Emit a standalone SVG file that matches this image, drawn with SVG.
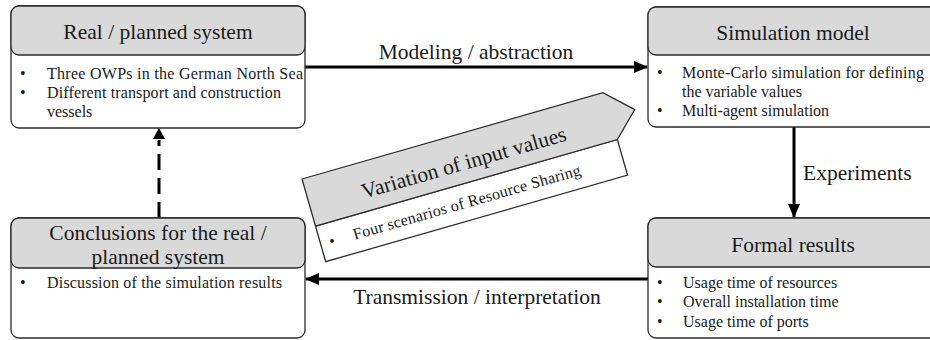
<svg xmlns="http://www.w3.org/2000/svg" width="930" height="340" viewBox="0 0 930 340">
  <style>
    .box { fill: #ffffff; stroke: #2b2b2b; stroke-width: 1.3; }
    .head { fill: #d9d9d9; stroke: #2b2b2b; stroke-width: 1.3; }
    .title { font-family: "Liberation Serif", "Times New Roman", serif; font-size: 21.5px; fill: #1a1a1a; text-anchor: middle; }
    .item { font-family: "Liberation Serif", "Times New Roman", serif; font-size: 16px; fill: #1a1a1a; }
    .label { font-family: "Liberation Serif", "Times New Roman", serif; font-size: 21.5px; fill: #1a1a1a; }
    .link { fill: none; stroke: #000000; stroke-width: 3; }
  </style>
  <defs>
    <marker id="arrow" markerUnits="userSpaceOnUse" markerWidth="14" markerHeight="12" refX="13" refY="6" orient="auto">
      <path d="M0,0 L14,6 L0,12 Z" fill="#000000"/>
    </marker>
  </defs>

  <!-- connectors -->
  <g id="connectors">
    <line class="link" x1="305" y1="67" x2="647" y2="67" marker-end="url(#arrow)"/>
    <text class="label" x="476" y="59" text-anchor="middle">Modeling / abstraction</text>

    <line class="link" x1="794" y1="127" x2="794" y2="217" marker-end="url(#arrow)"/>
    <text class="label" x="803" y="180">Experiments</text>

    <line class="link" x1="648" y1="279" x2="306" y2="279" marker-end="url(#arrow)"/>
    <text class="label" x="477" y="304" text-anchor="middle">Transmission / interpretation</text>

    <line class="link" x1="159" y1="218" x2="159" y2="140" stroke-width="4" stroke-dasharray="16 8"/>
    <path d="M153,139 L159,128 L165,139 Z" fill="#000000"/>
  </g>

  <!-- real / planned system -->
  <g id="node-real-system">
    <rect class="box" x="11" y="6" width="294" height="122" rx="8"/>
    <rect class="head" x="11" y="6" width="294" height="49" rx="8"/>
    <text class="title" x="158" y="39">Real / planned system</text>
    <text class="item" x="20" y="79">•</text>
    <text class="item" x="47" y="79" textLength="256" lengthAdjust="spacing">Three OWPs in the German North Sea</text>
    <text class="item" x="20" y="98">•</text>
    <text class="item" x="47" y="98" textLength="234" lengthAdjust="spacing">Different transport and construction</text>
    <text class="item" x="47" y="117">vessels</text>
  </g>

  <!-- simulation model -->
  <g id="node-simulation-model">
    <rect class="box" x="648" y="7" width="300" height="120" rx="8"/>
    <rect class="head" x="648" y="7" width="300" height="48" rx="8"/>
    <text class="title" x="793" y="40">Simulation model</text>
    <text class="item" x="657" y="78">•</text>
    <text class="item" x="682" y="78" textLength="242" lengthAdjust="spacing">Monte-Carlo simulation for defining</text>
    <text class="item" x="682" y="97">the variable values</text>
    <text class="item" x="657" y="116">•</text>
    <text class="item" x="682" y="116">Multi-agent simulation</text>
  </g>

  <!-- conclusions -->
  <g id="node-conclusions">
    <rect class="box" x="11" y="218" width="294" height="120" rx="8"/>
    <rect class="head" x="11" y="218" width="294" height="50" rx="8"/>
    <text class="title" x="158" y="240">Conclusions for the real /</text>
    <text class="title" x="158" y="264">planned system</text>
    <text class="item" x="20" y="288">•</text>
    <text class="item" x="47" y="288" textLength="235" lengthAdjust="spacing">Discussion of the simulation results</text>
  </g>

  <!-- formal results -->
  <g id="node-formal-results">
    <rect class="box" x="648" y="218" width="300" height="120" rx="8"/>
    <rect class="head" x="648" y="218" width="300" height="49" rx="8"/>
    <text class="title" x="793" y="252">Formal results</text>
    <text class="item" x="657" y="288">•</text>
    <text class="item" x="683" y="288">Usage time of resources</text>
    <text class="item" x="657" y="307">•</text>
    <text class="item" x="683" y="307">Overall installation time</text>
    <text class="item" x="657" y="327">•</text>
    <text class="item" x="683" y="327">Usage time of ports</text>
  </g>

  <!-- variation of input values (tilted tag) -->
  <g id="node-variation" transform="translate(302,179) rotate(-16)">
    <rect class="box" x="0" y="49" width="314" height="37"/>
    <polygon class="head" points="0,0 313,0 339,25 314,49 0,49"/>
    <text class="title" x="160" y="36">Variation of input values</text>
    <text class="item" x="9" y="73">•</text>
    <text class="item" x="34" y="73" textLength="236" lengthAdjust="spacing">Four scenarios of Resource Sharing</text>
  </g>
</svg>
